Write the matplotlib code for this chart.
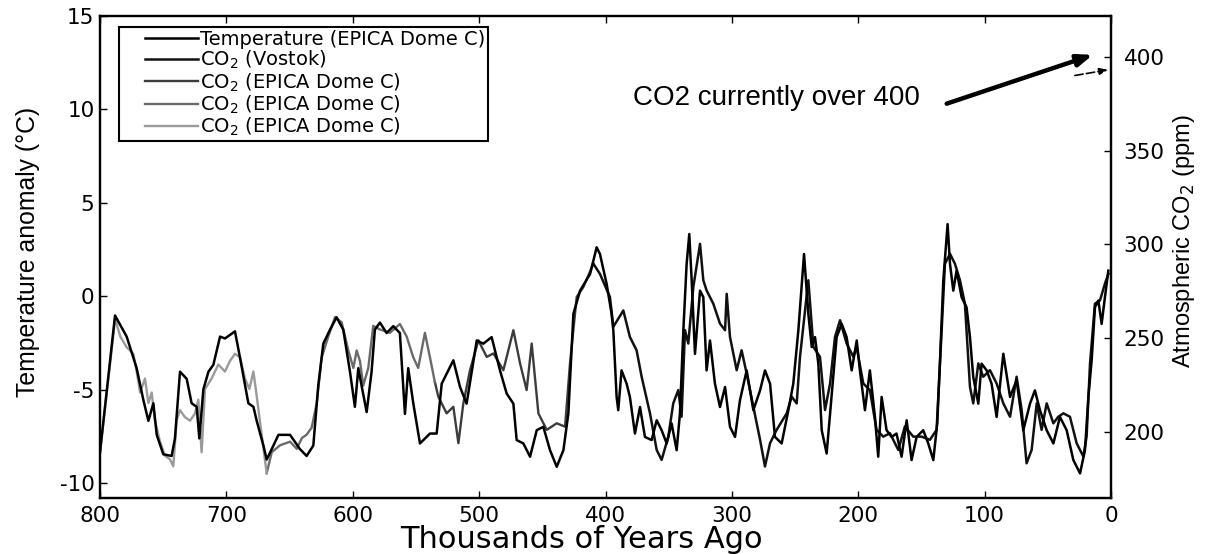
import matplotlib
matplotlib.use('Agg')
import matplotlib.pyplot as plt
from matplotlib.lines import Line2D
from matplotlib.legend_handler import HandlerLine2D

plt.rcParams['axes.unicode_minus'] = False
plt.rcParams['font.family'] = ['DejaVu Sans']

# ---------------- data (thousands of years ago) ----------------
temp_kyr = [800, 788.1, 778.9, 771.0, 765.7, 761.7, 757.8, 755.1, 749.9, 743.3, 740.7, 736.7,
            731.4, 727.5, 723.5, 721.4, 718.2, 714.2, 710.3, 705.0, 701.1, 693.2, 689.2, 682.6,
            678.6, 676.0, 670.7, 668.1, 664.1, 658.8, 649.6, 641.8, 636.5, 631.2, 627.3, 623.3,
            618.0, 612.8, 607.5, 602.2, 598.3, 595.6, 593.0, 589.0, 585.1, 582.5, 578.5, 573.2,
            567.9, 562.7, 558.7, 556.1, 552.1, 546.8, 538.9, 533.6, 529.6, 520.4, 515.1, 509.9,
            501.9, 496.7, 490.1, 483.5, 478.2, 472.9, 470.3, 465.0, 459.7, 454.4, 449.2, 443.9,
            438.6, 433.3, 429.4, 425.4, 420.1, 412.2, 407.0, 404.4, 399.1, 395.2, 393.8, 391.2,
            389.9, 387.3, 383.3, 380.7, 376.7, 372.7, 368.8, 363.5, 359.5, 355.6, 351.6, 347.7,
            343.7, 341.1, 338.4, 335.8, 333.7, 331.8, 329.2, 325.2, 322.6, 320.0, 317.3, 313.4,
            309.4, 305.4, 301.5, 297.5, 293.6, 288.3, 283.0, 277.7, 273.8, 269.8, 265.9, 260.6,
            255.3, 251.4, 247.4, 242.9, 239.5, 236.8, 234.2, 231.6, 228.9, 225.0, 222.3, 217.1,
            213.1, 209.2, 205.2, 201.2, 198.7, 194.7, 190.8, 186.8, 184.2, 181.5, 177.6, 173.6,
            169.7, 165.7, 161.7, 157.8, 153.8, 148.6, 144.6, 140.6, 137.5, 135.4, 132.7, 129.3,
            127.4, 124.8, 122.2, 118.2, 114.3, 111.6, 109.0, 105.0, 102.4, 98.4, 94.5, 90.5,
            85.2, 79.9, 74.7, 69.4, 64.1, 60.2, 56.2, 50.9, 45.6, 40.4, 35.1, 29.8,
            24.5, 20.6, 17.9, 15.3, 12.7, 10.0, 7.4, 4.8, 2.1]
temp_c = [-8.36, -1.03, -2.16, -3.85, -5.55, -6.67, -5.73, -7.42, -8.46, -8.55, -7.61, -4.04,
          -4.42, -5.73, -5.92, -7.61, -4.98, -4.04, -3.67, -2.16, -2.26, -1.88, -3.29, -5.73,
          -5.92, -6.67, -7.99, -8.74, -8.18, -7.42, -7.42, -8.18, -8.55, -7.99, -4.79, -2.54,
          -1.79, -1.13, -1.79, -4.04, -5.92, -3.85, -4.79, -6.20, -4.04, -1.79, -1.41, -1.97,
          -1.60, -1.97, -6.30, -3.85, -5.73, -7.88, -7.35, -7.35, -4.68, -3.43, -4.86, -5.75,
          -2.37, -2.54, -2.19, -3.97, -5.21, -5.75, -7.70, -7.88, -8.59, -7.17, -6.99, -8.24,
          -9.13, -8.24, -6.28, -0.94, 0.30, 1.19, 2.62, 2.26, 0.66, -0.94, -1.83, -5.39,
          -6.10, -3.97, -4.68, -5.39, -7.35, -5.93, -7.53, -7.70, -6.64, -7.17, -7.88, -6.81,
          -8.24, -6.28, -1.83, 1.73, 3.33, 0.84, -3.08, 0.30, -0.05, -3.97, -2.37, -4.68,
          -5.93, -4.86, -6.99, -7.53, -5.57, -3.97, -6.10, -5.04, -3.97, -4.68, -7.53, -7.88,
          -6.10, -4.68, -1.83, 2.26, -0.94, -2.72, -2.19, -3.61, -7.17, -8.42, -6.28, -2.19,
          -1.48, -2.19, -3.97, -2.37, -3.97, -6.10, -3.97, -6.46, -8.59, -5.39, -7.17, -7.53,
          -7.35, -8.59, -6.64, -8.77, -7.53, -7.17, -7.88, -8.77, -6.81, -3.61, 0.84, 3.86,
          1.73, 0.30, 1.37, -0.05, -0.59, -2.19, -4.32, -5.75, -3.61, -3.97, -4.68, -6.46,
          -3.08, -5.39, -4.50, -7.17, -5.75, -5.04, -6.10, -7.17, -7.88, -6.46, -7.17, -8.77,
          -9.48, -8.24, -5.39, -3.43, -0.59, -0.23, -1.48, -0.05, 1.37]

co2_vostok_kyr = [409.6, 404.4, 396.5, 393.8, 385.9, 380.7, 375.4, 371.4, 364.8, 359.5, 355.6,
                  350.3, 346.4, 342.4, 339.8, 337.1, 334.5, 330.5, 325.2, 322.6, 320.0, 314.7,
                  309.4, 305.4, 304.1, 301.5, 296.2, 292.3, 288.3, 283.0, 277.7, 273.8, 269.8,
                  264.6, 256.6, 252.7, 248.7, 246.1, 242.1, 239.5, 235.5, 230.3, 226.3, 222.3,
                  218.4, 214.4, 209.2, 203.9, 201.3, 196.0, 190.8, 185.5, 180.2, 174.9, 168.3,
                  163.1, 156.5, 149.9, 143.3, 138.0, 134.0, 131.4, 127.4, 123.5, 119.5, 115.6,
                  111.6, 109.0, 105.0, 101.1, 95.8, 90.5, 85.2, 79.9, 74.7, 70.7, 66.8, 62.8,
                  58.8, 54.9, 50.9, 45.6, 41.7, 37.7, 32.5, 27.2, 21.9, 19.3, 16.6, 12.7, 8.7,
                  4.8, 2.1]
co2_vostok_ppm = [289.7, 284.3, 272.0, 256.1, 264.8, 250.7, 243.6, 229.5, 210.0, 190.5, 185.2,
                  197.6, 215.3, 222.4, 208.2, 254.3, 247.2, 277.3, 300.3, 280.9, 275.5, 268.4,
                  257.8, 254.3, 273.7, 250.7, 233.0, 243.6, 231.2, 213.5, 195.9, 181.7, 194.1,
                  201.2, 210.0, 218.9, 215.3, 240.1, 264.8, 280.9, 245.4, 240.1, 211.8, 225.9,
                  250.7, 259.6, 247.2, 240.1, 245.4, 225.9, 222.4, 201.2, 197.6, 199.4, 190.5,
                  203.0, 197.6, 197.6, 195.9, 201.2, 254.3, 289.7, 295.0, 289.7, 280.9, 268.4,
                  224.1, 215.3, 236.6, 229.5, 233.0, 225.9, 215.3, 208.2, 229.5, 211.8, 183.4,
                  190.5, 215.3, 201.2, 215.3, 204.7, 208.2, 210.0, 208.2, 194.1, 187.0, 197.6,
                  236.6, 268.4, 270.2, 279.1, 284.3]

co2_edc1_kyr = [535.0, 532.3, 525.7, 520.4, 516.4, 512.5, 507.2, 500.6, 494.0, 488.7, 480.8,
                472.9, 467.6, 462.4, 458.4, 453.1, 446.5, 438.6, 432.0, 428.1, 422.8, 417.5, 409.6]
co2_edc1_ppm = [226.6, 218.9, 210.0, 213.5, 194.1, 215.3, 233.0, 248.9, 240.1, 241.9, 233.0,
                254.3, 236.6, 222.4, 247.2, 210.0, 201.2, 204.7, 202.9, 236.6, 272.0, 277.3, 289.7]

co2_edc2_kyr = [668.1, 664.1, 657.5, 649.6, 644.3, 640.3, 636.4, 632.5, 628.5, 624.6, 619.3,
                614.0, 608.8, 603.5, 599.5, 596.9, 594.3, 591.7, 587.7, 583.8, 578.5, 570.6,
                562.7, 557.4, 552.1, 548.2, 542.9, 538.9, 535.0]
co2_edc2_ppm = [178.1, 189.3, 193.0, 194.9, 191.1, 196.8, 198.7, 202.4, 215.5, 239.8, 251.0,
                261.3, 258.5, 243.5, 234.2, 243.5, 237.9, 224.8, 234.2, 256.6, 254.7, 252.9,
                257.6, 251.0, 239.8, 234.2, 252.9, 239.8, 226.6]

co2_edc3_kyr = [800, 788, 784, 779, 773.6, 771, 768.3, 764.4, 761.7, 759.1, 756.5, 752.5,
                748.6, 744.6, 742, 739.4, 736.7, 732.8, 728.8, 724.9, 722.2, 719.6, 716.9,
                711.7, 706.4, 701.1, 697.2, 693.2, 689.2, 685.3, 681.8, 678.6, 676, 672.1, 668.1]
co2_edc3_ppm = [189.3, 260.4, 251.0, 245.3, 241.7, 232.3, 221.1, 228.5, 215.5, 221.1, 206.1,
                194.9, 187.4, 185.5, 181.8, 206.1, 211.7, 208.0, 206.1, 209.8, 217.3, 189.3,
                223.0, 228.5, 236.0, 232.3, 237.9, 241.7, 239.8, 228.5, 223.0, 232.3, 219.2,
                198.7, 178.1]

x_ticks = [800, 700, 600, 500, 400, 300, 200, 100, 0]
temp_ticks = [-10, -5, 0, 5, 10, 15]
co2_ticks = [200, 250, 300, 350, 400]

legend_labels = ['Temperature (EPICA Dome C)', 'CO$_2$ (Vostok)', 'CO$_2$ (EPICA Dome C)',
                 'CO$_2$ (EPICA Dome C)', 'CO$_2$ (EPICA Dome C)']

# ---------------- figure ----------------
W, H = 1227, 554
fig = plt.figure(figsize=(W / 100, H / 100), dpi=100)


def fx(px):
    return px / W


def fy(py):
    return 1 - py / H


ax = fig.add_axes([fx(100), fy(498), fx(1111) - fx(100), fy(16) - fy(498)])
ax2 = ax.twinx()
ax.set_zorder(ax2.get_zorder() + 1)
ax.patch.set_visible(False)

l3, = ax2.plot(co2_edc1_kyr, co2_edc1_ppm, color='#3c3c3c', lw=1.7, label=legend_labels[2])
l4, = ax2.plot(co2_edc2_kyr, co2_edc2_ppm, color='#6a6a6a', lw=1.7, label=legend_labels[3])
l5, = ax2.plot(co2_edc3_kyr, co2_edc3_ppm, color='#9a9a9a', lw=1.7, label=legend_labels[4])
l2, = ax2.plot(co2_vostok_kyr, co2_vostok_ppm, color='#111111', lw=1.8, label=legend_labels[1])
l1, = ax.plot(temp_kyr, temp_c, color='black', lw=1.8, label=legend_labels[0])

ax.set_xlim(800, 0)
ax.set_ylim(-10.8, 15)
ax2.set_ylim(164.9, 421.7)

ax.set_xticks(x_ticks)
ax.set_xticklabels([str(v) for v in x_ticks])
ax.set_yticks(temp_ticks)
ax.set_yticklabels([str(v) for v in temp_ticks])
ax2.set_yticks(co2_ticks)
ax2.set_yticklabels([str(v) for v in co2_ticks])

ax.tick_params(axis='both', direction='in', length=5, width=1, labelsize=15.5, top=True)
ax.tick_params(axis='x', pad=6)
ax.tick_params(axis='y', pad=4)
ax2.tick_params(axis='y', direction='in', length=5, width=1, labelsize=15.5, pad=9)
for a in (ax, ax2):
    for s in a.spines.values():
        s.set_linewidth(1.6)
        s.set_color('black')

# axis labels
narrow = ['Liberation Sans Narrow', 'Liberation Sans', 'DejaVu Sans']
fig.text(fx(28), fy(252), 'Temperature anomaly (°C)', rotation=90, ha='center', va='center',
         fontsize=17.8, family=narrow)
fig.text(fx(1184), fy(241), 'Atmospheric CO$_2$ (ppm)', rotation=90, ha='center', va='center',
         fontsize=17, family=narrow)
fig.text(fx(581), fy(540), 'Thousands of Years Ago', ha='center', va='center', fontsize=22)

# legend
handles = [l1, l2, l3, l4, l5]
leg = ax.legend(handles, legend_labels, loc='upper left', bbox_to_anchor=(0.0188, 0.977),
                borderaxespad=0, fontsize=14, frameon=True, fancybox=False,
                handlelength=3.91, handletextpad=0.1, labelspacing=0.0, borderpad=0.15,
                handler_map={Line2D: HandlerLine2D(xpad=1.19)})
leg.get_frame().set_edgecolor('black')
leg.get_frame().set_linewidth(1.5)
leg.get_frame().set_alpha(1)

# annotation
ax.annotate('', xy=(14.4, 401), xycoords=ax2.transData,
            xytext=(130, 375), textcoords=ax2.transData,
            arrowprops=dict(arrowstyle='-|>,head_length=0.9,head_width=0.35', lw=3.2,
                            color='black', shrinkA=0, shrinkB=0))
ax.annotate('', xy=(2.4, 393), xycoords=ax2.transData,
            xytext=(28.6, 390), textcoords=ax2.transData,
            arrowprops=dict(arrowstyle='-|>,head_length=0.5,head_width=0.2', lw=1.2,
                            linestyle=(0, (5, 2)), color='black', shrinkA=0, shrinkB=0))
ax.text(151, 378, 'CO2 currently over 400', transform=ax2.transData, ha='right', va='center',
        fontsize=20, family=['Liberation Sans', 'DejaVu Sans'])

fig.savefig('out.png', dpi=100)
